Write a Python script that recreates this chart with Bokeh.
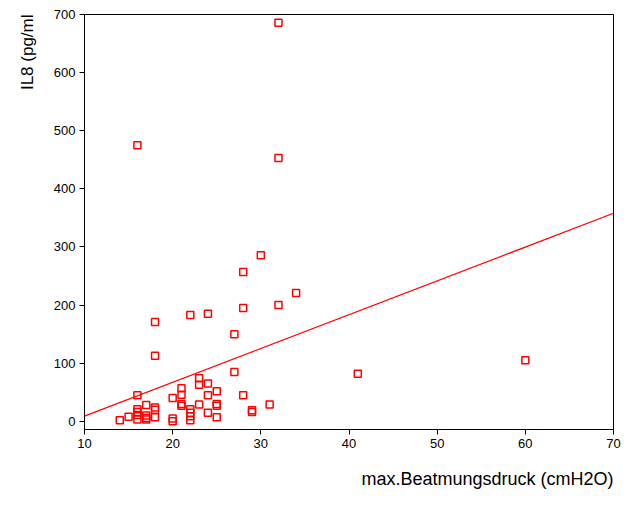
from bokeh.plotting import figure
from bokeh.models import FixedTicker, Range1d, Title
from bokeh.embed import file_html
from bokeh.resources import INLINE

# data
beat_druck = [14, 15, 16, 16, 16, 16, 16, 16, 17, 17, 17, 17, 18, 18, 18, 18, 18,
              20, 20, 20, 21, 21, 21, 21, 22, 22, 22, 22, 22, 23, 23, 23,
              24, 24, 24, 24, 25, 25, 25, 25, 27, 27, 28, 28, 28, 29, 29,
              30, 31, 32, 32, 32, 34, 41, 60]
il8 = [2, 8, 45, 21, 16, 11, 3, 475, 28, 10, 6, 3, 24, 20, 7, 113, 171,
       40, 5, 0, 57, 46, 30, 27, 21, 15, 9, 2, 183, 74, 63, 29,
       65, 45, 15, 185, 52, 30, 27, 7, 85, 150, 45, 195, 257, 19, 16,
       286, 29, 200, 453, 686, 221, 82, 105]
fit_x = [10, 70]
fit_y = [9, 358]
x_ticks = [10, 20, 30, 40, 50, 60, 70]
y_ticks = [0, 100, 200, 300, 400, 500, 600, 700]

FONT = "Liberation Sans"
RED = "#ff0000"

p = figure(width=634, height=505, output_backend="svg", toolbar_location=None,
           x_range=Range1d(10, 70), y_range=Range1d(-14, 700),
           min_border_left=84, min_border_right=21, min_border_top=14,
           min_border_bottom=75)
p.background_fill_color = "white"
p.border_fill_color = "white"
p.outline_line_color = "black"
p.outline_line_width = 1
p.xgrid.visible = False
p.ygrid.visible = False

for ax in (p.xaxis[0], p.yaxis[0]):
    ax.major_label_text_font = FONT
    ax.major_label_text_font_size = "13px"
    ax.major_label_text_color = "black"
    ax.axis_line_color = "black"
    ax.major_tick_line_color = "black"
    ax.major_tick_out = 5
    ax.major_tick_in = 0
    ax.minor_tick_line_color = None
    ax.major_label_standoff = 4

p.xaxis[0].ticker = FixedTicker(ticks=x_ticks)
p.yaxis[0].ticker = FixedTicker(ticks=y_ticks)

p.line(fit_x, fit_y, line_color=RED, line_width=1.2)
p.scatter(beat_druck, il8, marker="square", size=7, fill_color=None,
          line_color=RED, line_width=1.5)

xt = Title(text="max.Beatmungsdruck (cmH2O)", align="right", standoff=33,
           offset=0, text_font=FONT, text_font_size="18px",
           text_font_style="normal", text_color="black")
yt = Title(text="IL8 (pg/ml", align="right", standoff=28, offset=0,
           text_font=FONT, text_font_size="17px", text_font_style="normal",
           text_color="black")
p.add_layout(xt, "below")
p.add_layout(yt, "left")

open("out.html", "w").write(file_html(p, INLINE))
